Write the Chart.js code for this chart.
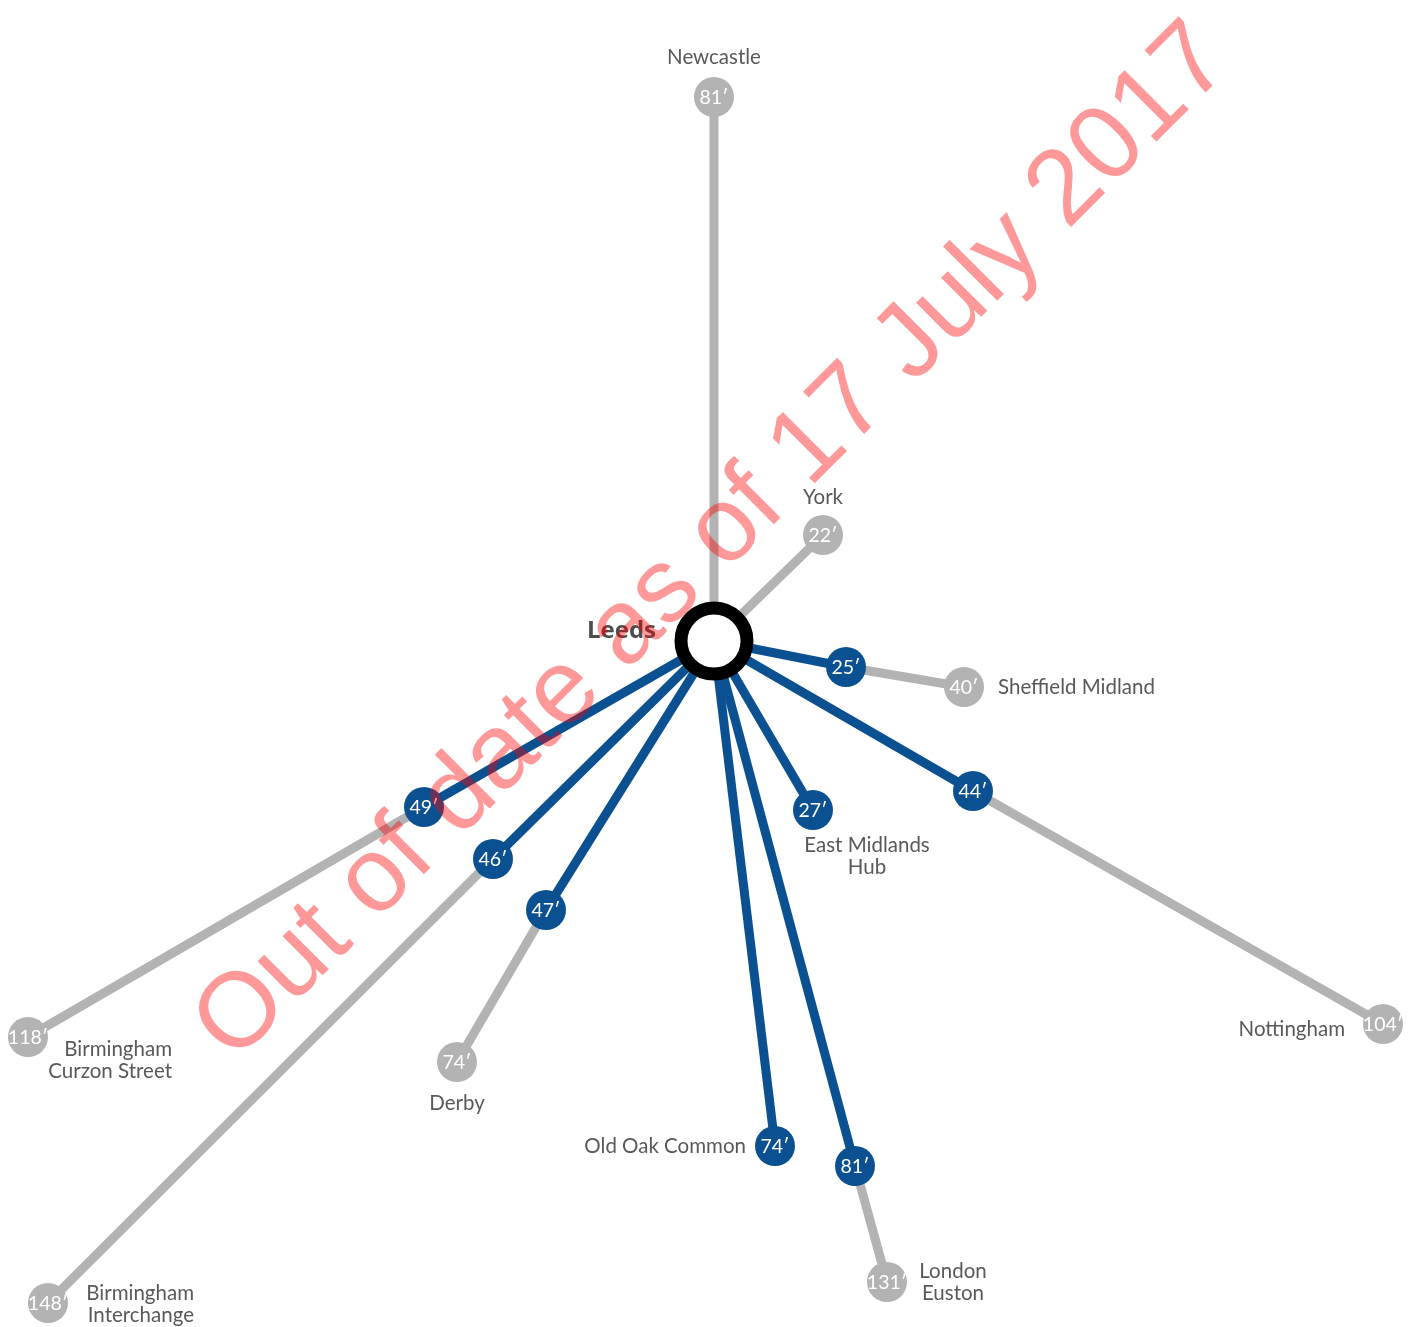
<!DOCTYPE html>
<html lang="en">
<head>
  <meta charset="UTF-8" />
  <title>Leeds journey times</title>
  <script src="https://cdn.jsdelivr.net/npm/chart.js"></script>
  <style>
    body {
      margin: 0;
      background: #fff;
    }
    .chart-box {
      width: 1416px;
      height: 1327px;
    }
  </style>
</head>
<body>
  <div class="chart-box"><canvas id="mapChart"></canvas></div>

  <script>
    // destinations from Leeds
    const stations = ['Newcastle', 'York', 'Sheffield Midland', 'Nottingham', 'East Midlands Hub',
      'London Euston', 'Old Oak Common', 'Derby', 'Birmingham Interchange', 'Birmingham Curzon Street'];

    // HS2 stop on the way (blue), null where there is none
    const viaMins = [null, null, 25, 44, 27, 81, 74, 47, 46, 49];
    const viaX = [null, null, 13.2, 25.9, 9.9, 14.1, 6.1, -16.8, -22.1, -29.0];
    const viaY = [null, null, -2.6, -15.0, -16.9, -52.5, -50.5, -26.9, -21.8, -16.6];

    // final station (grey), null where the HS2 stop is the end
    const endMins = [81, 22, 40, 104, null, 131, null, 74, 148, 118];
    const endX = [0, 10.9, 25.0, 66.9, null, 17.3, null, -25.7, -66.6, -68.6];
    const endY = [54.4, 10.6, -4.6, -38.3, null, -64.1, null, -42.1, -66.2, -39.6];

    const hubName = 'Leeds';
    const hubPos = { x: 0, y: 0 };

    const watermark = 'Out of date as of 17 July 2017';

    // label placement, pixels from the station dot
    const labelLayout = [
      { dx: 0, dy: -40, align: 'center', lines: ['Newcastle'] },
      { dx: 0, dy: -38, align: 'center', lines: ['York'] },
      { dx: 34, dy: 0, align: 'left', lines: ['Sheffield Midland'] },
      { dx: -38, dy: 5, align: 'right', lines: ['Nottingham'] },
      { dx: 54, dy: 35, align: 'center', lines: ['East Midlands', 'Hub'] },
      { dx: 66, dy: -11, align: 'center', lines: ['London', 'Euston'] },
      { dx: -29, dy: 0, align: 'right', lines: ['Old Oak Common'] },
      { dx: 0, dy: 41, align: 'center', lines: ['Derby'] },
      { dx: 146, dy: -10, align: 'right', lines: ['Birmingham', 'Interchange'] },
      { dx: 144, dy: 12, align: 'right', lines: ['Birmingham', 'Curzon Street'] }
    ];

    const GREY = '#b3b3b3';
    const BLUE = '#0b5091';
    const TEXT = '#595959';
    const FONT = 'Lato, "Open Sans", sans-serif';

    // build datasets: grey first (bottom), blue above, Leeds on top
    const datasets = [];
    const labelRefs = [];   // where each station's name/number sits

    stations.forEach((name, i) => {
      const hasVia = viaMins[i] !== null;
      const hasEnd = endMins[i] !== null;
      if (hasEnd) {
        const start = hasVia ? { x: viaX[i], y: viaY[i] } : hubPos;
        datasets.push({
          type: 'line',
          data: [start, { x: endX[i], y: endY[i] }],
          borderColor: GREY,
          borderWidth: 9,
          pointRadius: [0, 20],
          pointBackgroundColor: GREY,
          pointBorderWidth: 0,
          pointHoverRadius: [0, 20],
          order: 3,
          clip: false,
          minutes: [null, endMins[i]]
        });
        labelRefs.push({ ds: datasets.length - 1, idx: 1, layout: labelLayout[i] });
      }
      if (hasVia) {
        datasets.push({
          type: 'line',
          data: [hubPos, { x: viaX[i], y: viaY[i] }],
          borderColor: BLUE,
          borderWidth: 9,
          pointRadius: [0, 20],
          pointBackgroundColor: BLUE,
          pointBorderWidth: 0,
          pointHoverRadius: [0, 20],
          order: 2,
          clip: false,
          minutes: [null, viaMins[i]]
        });
        if (!hasEnd) labelRefs.push({ ds: datasets.length - 1, idx: 1, layout: labelLayout[i] });
      }
    });

    datasets.push({
      type: 'scatter',
      data: [hubPos],
      pointRadius: 33,
      pointHoverRadius: 33,
      pointBackgroundColor: '#fff',
      pointBorderColor: '#000',
      pointBorderWidth: 13,
      pointHoverBorderWidth: 13,
      order: 1,
      clip: false
    });
    const leedsIndex = datasets.length - 1;

    const textPlugin = {
      id: 'stationText',
      afterDatasetsDraw(chart) {
        const ctx = chart.ctx;
        ctx.save();
        ctx.beginPath();
        ctx.rect(0, 0, 1404, chart.height);
        ctx.clip();

        // minutes inside every dot
        ctx.fillStyle = '#fff';
        ctx.font = '19.5px ' + FONT;
        ctx.textAlign = 'center';
        ctx.textBaseline = 'middle';
        chart.data.datasets.forEach((ds, i) => {
          if (!ds.minutes) return;
          const meta = chart.getDatasetMeta(i);
          ds.minutes.forEach((m, j) => {
            if (m === null) return;
            const p = meta.data[j];
            ctx.fillText(m + '\u2032', p.x, p.y + 1);
          });
        });

        // station names
        ctx.fillStyle = TEXT;
        ctx.font = '20.5px ' + FONT;
        labelRefs.forEach(ref => {
          const p = chart.getDatasetMeta(ref.ds).data[ref.idx];
          ctx.textAlign = ref.layout.align;
          ref.layout.lines.forEach((line, k) => {
            ctx.fillText(line, p.x + ref.layout.dx, p.y + ref.layout.dy + k * 22);
          });
        });

        // Leeds
        const lp = chart.getDatasetMeta(leedsIndex).data[0];
        ctx.fillStyle = '#4d4d4d';
        ctx.font = 'bold 24px "Open Sans", Lato, sans-serif';
        ctx.textAlign = 'right';
        ctx.fillText(hubName, lp.x - 58, lp.y - 10);
        ctx.restore();
      },
      afterDraw(chart) {
        const ctx = chart.ctx;
        const lp = chart.getDatasetMeta(leedsIndex).data[0];
        ctx.save();
        ctx.translate(lp.x + 20, lp.y - 77);
        ctx.rotate(-Math.PI / 4);
        ctx.font = '106px "Liberation Sans", Arial, sans-serif';
        ctx.fillStyle = 'rgba(255, 0, 0, 0.4)';
        ctx.textAlign = 'center';
        ctx.textBaseline = 'alphabetic';
        ctx.fillText(watermark, 0, 0);
        ctx.restore();
      }
    };

    new Chart(document.getElementById('mapChart'), {
      type: 'scatter',
      data: { datasets: datasets },
      options: {
        responsive: true,
        maintainAspectRatio: false,
        animation: false,
        events: [],
        layout: { padding: 0, autoPadding: false },
        plugins: {
          legend: { display: false },
          tooltip: { enabled: false }
        },
        elements: { line: { tension: 0 } },
        scales: {
          x: { type: 'linear', min: -71.4, max: 70.2, display: false },
          y: { type: 'linear', min: -68.6, max: 64.1, display: false }
        }
      },
      plugins: [textPlugin]
    });
  </script>
</body>
</html>
